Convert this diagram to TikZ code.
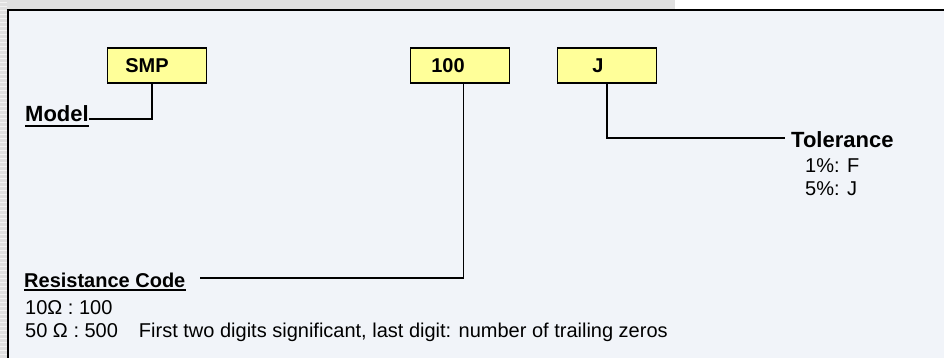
\documentclass[tikz,border=0pt]{standalone}
\usepackage{fontspec}
\setmainfont{Liberation Sans}
\usetikzlibrary{positioning}

\definecolor{fondpanneau}{RGB}{241,244,249}
\definecolor{jaunecode}{RGB}{255,255,153}
\definecolor{grisbord}{RGB}{224,224,224}

\tikzset{
  codebox/.style={draw=black, line width=1.4pt, fill=jaunecode,
    minimum width=99pt, minimum height=35pt, inner sep=0pt},
  codetext/.style={font=\fontsize{20}{24}\selectfont\bfseries, inner sep=0pt},
  titre/.style={font=\fontsize{22}{26}\selectfont\bfseries, inner sep=0pt, anchor=base west},
  soustitre/.style={font=\fontsize{20}{24}\selectfont\bfseries, inner sep=0pt, anchor=base west},
  texte/.style={font=\fontsize{20}{24}\selectfont, inner sep=0pt, anchor=base west},
  lien/.style={line width=1.5pt, black},
  souligne/.style={line width=2.6pt, black}
}

\begin{document}
\begin{tikzpicture}[x=1pt,y=-1pt]
  \useasboundingbox (0,0) rectangle (944,358);
  % fond : bandes grises et panneau
  \fill[white] (0,0) rectangle (944,358);
  \fill[grisbord] (0,0) rectangle (675,10);
  \fill[grisbord] (0,0) rectangle (8,358);
  \foreach \y in {2,6,...,358}
    \draw[white!60!grisbord, line width=0.8pt] (0,\y) -- (7,\y);
  \filldraw[fill=fondpanneau, draw=black, line width=2pt] (8,10) rectangle (970,380);

  % cases du code
  \node[codebox] (modele) at (157,65.5) {};
  \node[codetext] (modeleTxt) at ([xshift=-10pt]modele.center) {SMP};
  \node[codebox] (resist) at (460,65.5) {};
  \node[codetext] (resistTxt) at ([xshift=-12pt]resist.center) {100};
  \node[codebox] (toler) at (607,65.5) {};
  \node[codetext] (tolerTxt) at ([xshift=-9pt]toler.center) {J};

  % libellés
  \node[titre] (model) at (25,122) {Model\ };
  \draw[souligne] ([yshift=-4pt]model.base west) -- ([yshift=-4pt]model.base east);
  \node[titre] (tol) at (791,148) {Tolerance};
  \node[texte] (tolF) at (805,172) {1\%: F};
  \node[texte] (tolJ) at (805,195) {5\%: J};
  \node[soustitre] (rcode) at (24,287) {Resistance Code\ };
  \draw[souligne] ([yshift=-3pt]rcode.base west) -- ([yshift=-3pt]rcode.base east);
  \node[texte] (ex1) at (25,314) {10Ω : 100};
  \node[texte] (ex2) at (25,337) {50 Ω : 500\hspace{21pt}First two digits significant, last digit: number of trailing zeros};

  % liaisons
  \draw[lien] ([xshift=-5pt]modele.south) |- ([yshift=3pt]model.base east);
  \draw[lien] ([xshift=3.5pt]resist.south) |- ([xshift=14pt,yshift=9pt]rcode.base east);
  \draw[lien] (toler.south) |- ([xshift=-6pt,yshift=10pt]tol.base west);
\end{tikzpicture}
\end{document}
